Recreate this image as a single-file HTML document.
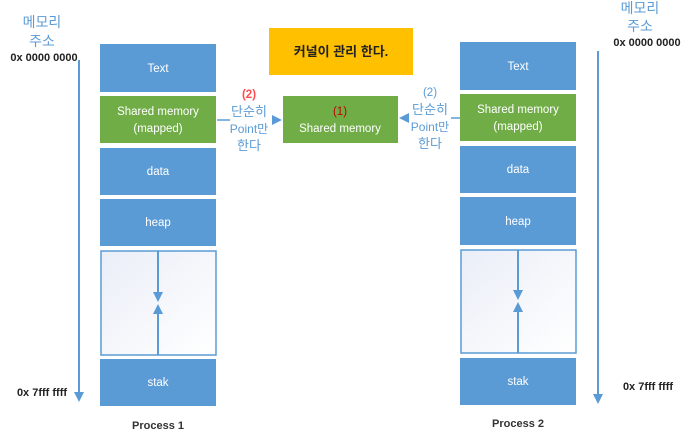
<!DOCTYPE html>
<html><head><meta charset="utf-8"><style>
html,body{margin:0;padding:0;background:#fff;}
svg{display:block;}
text{font-family:"Liberation Sans","Noto Sans CJK KR",sans-serif;}
</style></head><body>
<svg width="691" height="445" viewBox="0 0 691 445" xmlns="http://www.w3.org/2000/svg">
<defs>
<linearGradient id="g" x1="0" y1="0" x2="1" y2="1"><stop offset="0" stop-color="#eaeef7"/><stop offset="1" stop-color="#ffffff"/></linearGradient>
</defs>
<text x="42" y="27" font-size="14" fill="#5b9bd5" text-anchor="middle">메모리</text>
<text x="42" y="46" font-size="14" fill="#5b9bd5" text-anchor="middle">주소</text>
<text x="44" y="61" font-size="11" font-weight="bold" fill="#222" text-anchor="middle">0x 0000 0000</text>
<line x1="79" y1="60" x2="79" y2="393" stroke="#5b9bd5" stroke-width="2"/>
<polygon points="74,392 84,392 79,402" fill="#5b9bd5"/>
<text x="42" y="396" font-size="11" font-weight="bold" fill="#222" text-anchor="middle">0x 7fff ffff</text>
<text x="640" y="13" font-size="14" fill="#5b9bd5" text-anchor="middle">메모리</text>
<text x="640" y="31" font-size="14" fill="#5b9bd5" text-anchor="middle">주소</text>
<text x="647" y="46" font-size="11" font-weight="bold" fill="#222" text-anchor="middle">0x 0000 0000</text>
<line x1="598" y1="51" x2="598" y2="395" stroke="#5b9bd5" stroke-width="2"/>
<polygon points="593,394 603,394 598,404" fill="#5b9bd5"/>
<text x="648" y="390" font-size="11" font-weight="bold" fill="#222" text-anchor="middle">0x 7fff ffff</text>

<rect x="100" y="44" width="116" height="48" fill="#5b9bd5"/>
<text x="158" y="72" font-size="11.5" fill="#fff" text-anchor="middle">Text</text>
<rect x="100" y="96" width="116" height="47" fill="#70ad47"/>
<text x="158" y="115" font-size="11.5" fill="#fff" text-anchor="middle">Shared memory</text>
<text x="158" y="132" font-size="11.5" fill="#fff" text-anchor="middle">(mapped)</text>
<rect x="100" y="148" width="116" height="47" fill="#5b9bd5"/>
<text x="158" y="175" font-size="11.5" fill="#fff" text-anchor="middle">data</text>
<rect x="100" y="199" width="116" height="47" fill="#5b9bd5"/>
<text x="158" y="226" font-size="11.5" fill="#fff" text-anchor="middle">heap</text>
<rect x="101" y="251" width="115" height="104" fill="url(#g)" stroke="#5b9bd5" stroke-width="1.5"/>
<line x1="158" y1="251" x2="158" y2="293" stroke="#5b9bd5" stroke-width="2"/>
<polygon points="153,292 163,292 158,302" fill="#5b9bd5"/>
<line x1="158" y1="313" x2="158" y2="355" stroke="#5b9bd5" stroke-width="2"/>
<polygon points="153,314 163,314 158,304" fill="#5b9bd5"/>
<rect x="100" y="359" width="116" height="47" fill="#5b9bd5"/>
<text x="158" y="386" font-size="11.5" fill="#fff" text-anchor="middle">stak</text>
<text x="158" y="429" font-size="11" font-weight="bold" fill="#333" text-anchor="middle">Process 1</text>

<rect x="460" y="42" width="116" height="48" fill="#5b9bd5"/>
<text x="518" y="70" font-size="11.5" fill="#fff" text-anchor="middle">Text</text>
<rect x="460" y="94" width="116" height="47" fill="#70ad47"/>
<text x="518" y="113" font-size="11.5" fill="#fff" text-anchor="middle">Shared memory</text>
<text x="518" y="130" font-size="11.5" fill="#fff" text-anchor="middle">(mapped)</text>
<rect x="460" y="146" width="116" height="47" fill="#5b9bd5"/>
<text x="518" y="173" font-size="11.5" fill="#fff" text-anchor="middle">data</text>
<rect x="460" y="197" width="116" height="48" fill="#5b9bd5"/>
<text x="518" y="225" font-size="11.5" fill="#fff" text-anchor="middle">heap</text>
<rect x="461" y="250" width="115" height="103" fill="url(#g)" stroke="#5b9bd5" stroke-width="1.5"/>
<line x1="518" y1="250" x2="518" y2="291" stroke="#5b9bd5" stroke-width="2"/>
<polygon points="513,290 523,290 518,300" fill="#5b9bd5"/>
<line x1="518" y1="311" x2="518" y2="353" stroke="#5b9bd5" stroke-width="2"/>
<polygon points="513,312 523,312 518,302" fill="#5b9bd5"/>
<rect x="460" y="358" width="116" height="47" fill="#5b9bd5"/>
<text x="518" y="385" font-size="11.5" fill="#fff" text-anchor="middle">stak</text>
<text x="518" y="427" font-size="11" font-weight="bold" fill="#333" text-anchor="middle">Process 2</text>

<rect x="269" y="28" width="144" height="47" fill="#ffc000"/>
<text x="341" y="56" font-size="13" font-weight="bold" fill="#222" text-anchor="middle">커널이 관리 한다.</text>
<rect x="283" y="96" width="115" height="47" fill="#70ad47"/>
<text x="340" y="115" font-size="11.5" fill="#c00000" text-anchor="middle">(1)</text>
<text x="340" y="132" font-size="11.5" fill="#fff" text-anchor="middle">Shared memory</text>

<line x1="217" y1="120" x2="230" y2="120" stroke="#5b9bd5" stroke-width="1.5"/>
<polygon points="272,115 272,125 282,120" fill="#5b9bd5"/>
<text x="249" y="98" font-size="11.5" font-weight="bold" fill="#ff4b4b" text-anchor="middle">(2)</text>
<text x="249" y="116" font-size="13" fill="#5b9bd5" text-anchor="middle">단순히</text>
<text x="249" y="133" font-size="12" fill="#5b9bd5" text-anchor="middle">Point만</text>
<text x="249" y="150" font-size="13" fill="#5b9bd5" text-anchor="middle">한다</text>

<line x1="451" y1="118" x2="460" y2="118" stroke="#5b9bd5" stroke-width="1.5"/>
<polygon points="409,113 409,123 399,118" fill="#5b9bd5"/>
<text x="430" y="96" font-size="11.5" fill="#5b9bd5" text-anchor="middle">(2)</text>
<text x="430" y="114" font-size="13" fill="#5b9bd5" text-anchor="middle">단순히</text>
<text x="430" y="131" font-size="12" fill="#5b9bd5" text-anchor="middle">Point만</text>
<text x="430" y="148" font-size="13" fill="#5b9bd5" text-anchor="middle">한다</text>
</svg>
</body></html>
